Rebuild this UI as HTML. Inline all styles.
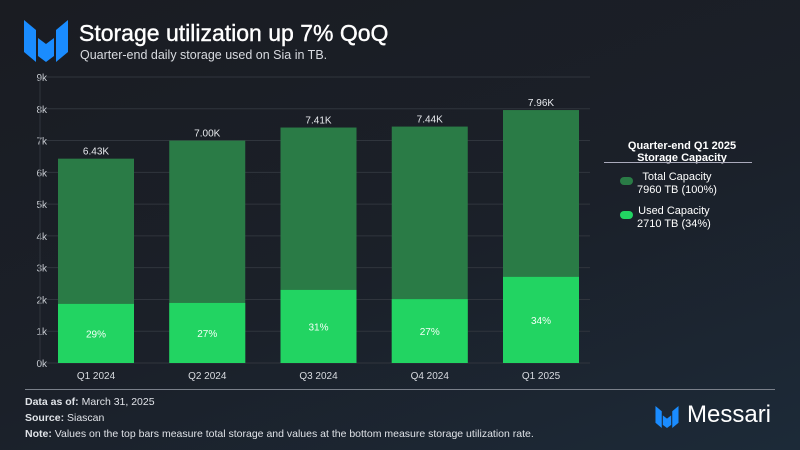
<!DOCTYPE html>
<html><head><meta charset="utf-8"><style>
body{margin:0;width:800px;height:450px;overflow:hidden;font-family:"Liberation Sans",sans-serif;}
#root{position:relative;width:800px;height:450px;background:linear-gradient(160deg,#1a1c22 0%,#1b2029 55%,#1c2a38 100%);color:#fff;}
.t{position:absolute;white-space:nowrap;}
</style></head><body>
<div id="root">
<svg class="t" style="left:24px;top:20px" width="44" height="42" viewBox="0 0 44 42">
<polygon points="0,0 12,10 12,42 0,32" fill="#1a8cff"/>
<polygon points="14,18 22,24 30,18 30,36 22,42 14,36" fill="#1a8cff"/>
<polygon points="44,0 32,10 32,42 44,32" fill="#1a8cff"/>
</svg>
<div class="t" style="left:79px;top:20px;font-size:23px;font-weight:normal;color:#fff;-webkit-text-stroke:0.4px #fff">Storage utilization up 7% QoQ</div>
<div class="t" style="left:80px;top:48px;font-size:12.5px;color:#d8dbe0">Quarter-end daily storage used on Sia in TB.</div>
<svg id="chart" class="t" style="left:0;top:0" width="800" height="390"></svg>
<div class="t" style="left:607px;top:140px;width:150px;text-align:center;font-size:11px;font-weight:bold;line-height:12px">Quarter-end Q1 2025<br>Storage Capacity</div>
<div class="t" style="left:604px;top:162px;width:148px;height:1px;background:#aab"></div>
<div class="t" style="left:620px;top:177px;width:13px;height:8px;border-radius:4px;background:#2a7b46"></div>
<div class="t" style="left:637px;top:171px;font-size:11px;line-height:13px;text-align:center">Total Capacity<br>7960 TB (100%)</div>
<div class="t" style="left:620px;top:211px;width:13px;height:8px;border-radius:4px;background:#22d462"></div>
<div class="t" style="left:637px;top:205px;font-size:11px;line-height:13px;text-align:center">Used Capacity<br>2710 TB (34%)</div>
<div class="t" style="left:25px;top:389px;width:750px;height:1px;background:#7a808a"></div>
<div class="t" style="left:25px;top:396px;font-size:10.5px;color:#e0e3e8"><b>Data as of:</b> March 31, 2025</div>
<div class="t" style="left:25px;top:412px;font-size:10.5px;color:#e0e3e8"><b>Source:</b> Siascan</div>
<div class="t" style="left:25px;top:428px;font-size:10.5px;color:#e0e3e8"><b>Note:</b> Values on the top bars measure total storage and values at the bottom measure storage utilization rate.</div>
<svg class="t" style="left:655px;top:406px" width="24" height="22" viewBox="0 0 44 42">
<polygon points="0,0 12,10 12,42 0,32" fill="#1a8cff"/>
<polygon points="14,18 22,24 30,18 30,36 22,42 14,36" fill="#1a8cff"/>
<polygon points="44,0 32,10 32,42 44,32" fill="#1a8cff"/>
</svg>
<div class="t" style="left:687px;top:401px;font-size:24px;color:#fff">Messari</div>
</div>
<script>
const categories=["Q1 2024","Q2 2024","Q3 2024","Q4 2024","Q1 2025"];
const totalValues=[6.43,7.00,7.41,7.44,7.96];
const usedValues=[1.86,1.89,2.30,2.01,2.71];
const totalLabels=["6.43K","7.00K","7.41K","7.44K","7.96K"];
const pctLabels=["29%","27%","31%","27%","34%"];
const yTicks=[0,1,2,3,4,5,6,7,8,9];
const ns="http://www.w3.org/2000/svg";
const svg=document.getElementById('chart');
const y0=363,y9=77,yMax=9;
function y(v){return y0-(v/yMax)*(y0-y9);}
function x(i){return 58+i*111.25;}
const bw=76;
function mk(tag,attrs,parent){const e=document.createElementNS(ns,tag);for(const k in attrs)e.setAttribute(k,attrs[k]);(parent||svg).appendChild(e);return e;}
yTicks.forEach(t=>{
 const g=mk('line',{x1:44,x2:590,y1:y(t),y2:y(t),stroke:'#30353d','stroke-width':1});
 
 
 const l=mk('text',{x:47,y:y(t)+4,'text-anchor':'end','font-size':10,fill:'#c8ccd2','font-family':'Liberation Sans'});
 l.textContent=t+'k';
 
 
});
const ax=mk('line',{x1:40,x2:40,y1:y9,y2:y0,stroke:'#30353d'});


categories.forEach((c,i)=>{
 const tb=mk('rect',{x:x(i),y:y(totalValues[i]),width:bw,height:y0-y(totalValues[i]),fill:'#2a7b46'});
 
 
 const ub=mk('rect',{x:x(i),y:y(usedValues[i]),width:bw,height:y0-y(usedValues[i]),fill:'#22d462'});
 
 
 const tl=mk('text',{x:x(i)+bw/2,y:y(totalValues[i])-4,'text-anchor':'middle','font-size':10,fill:'#e8eaee','font-family':'Liberation Sans'});
 tl.textContent=totalLabels[i];
 
 
 const pl=mk('text',{x:x(i)+bw/2,y:(y0+y(usedValues[i]))/2+4,'text-anchor':'middle','font-size':10,fill:'#f4fff7','font-family':'Liberation Sans'});
 pl.textContent=pctLabels[i];
 
 
 const xl=mk('text',{x:x(i)+bw/2,y:y0+16,'text-anchor':'middle','font-size':10,fill:'#d8dbe0','font-family':'Liberation Sans'});
 xl.textContent=c;
 
 
});
</script>
</body></html>
